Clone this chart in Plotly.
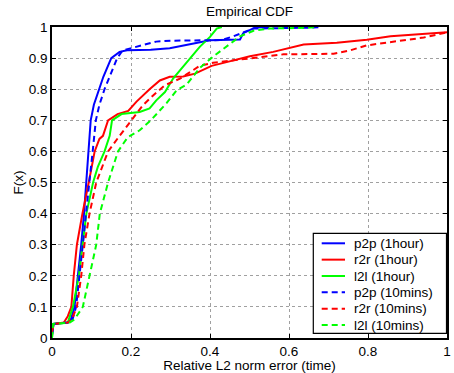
import plotly.graph_objects as go

# ---------------- data ----------------
p2p_1h_x = [0, 0.004, 0.04, 0.048, 0.057, 0.066, 0.074, 0.081, 0.087, 0.092, 0.098, 0.106, 0.114, 0.119, 0.13, 0.15, 0.171, 0.19, 0.25, 0.298, 0.374, 0.40, 0.476, 0.484, 0.514, 0.55]
p2p_1h_y = [0.01, 0.045, 0.05, 0.06, 0.1, 0.2, 0.3, 0.4, 0.5, 0.6, 0.7, 0.75, 0.78, 0.8, 0.84, 0.9, 0.92, 0.925, 0.927, 0.932, 0.952, 0.957, 0.96, 0.98, 0.998, 1.0]

r2r_1h_x = [0, 0.004, 0.03, 0.04, 0.049, 0.055, 0.063, 0.077, 0.093, 0.108, 0.12, 0.129, 0.142, 0.166, 0.193, 0.214, 0.247, 0.273, 0.298, 0.332, 0.362, 0.404, 0.442, 0.501, 0.56, 0.594, 0.637, 0.721, 0.797, 0.857, 0.924, 1.0]
r2r_1h_y = [0.02, 0.045, 0.05, 0.07, 0.1, 0.2, 0.3, 0.4, 0.5, 0.6, 0.64, 0.65, 0.7, 0.72, 0.73, 0.76, 0.8, 0.828, 0.84, 0.841, 0.85, 0.875, 0.887, 0.906, 0.92, 0.931, 0.944, 0.949, 0.959, 0.97, 0.977, 0.983]

l2l_1h_x = [0, 0.003, 0.04, 0.046, 0.053, 0.068, 0.078, 0.087, 0.104, 0.116, 0.133, 0.146, 0.152, 0.176, 0.222, 0.247, 0.264, 0.286, 0.307, 0.341, 0.374, 0.40, 0.417, 0.43]
l2l_1h_y = [0.0, 0.045, 0.05, 0.07, 0.1, 0.2, 0.3, 0.4, 0.5, 0.55, 0.6, 0.65, 0.7, 0.72, 0.727, 0.738, 0.764, 0.791, 0.835, 0.887, 0.936, 0.968, 0.995, 1.0]

p2p_10m_x = [0, 0.004, 0.042, 0.052, 0.061, 0.07, 0.078, 0.086, 0.095, 0.103, 0.111, 0.12, 0.133, 0.165, 0.179, 0.222, 0.264, 0.30, 0.43, 0.459, 0.51, 0.66, 0.68]
p2p_10m_y = [0.01, 0.045, 0.05, 0.06, 0.1, 0.2, 0.3, 0.4, 0.5, 0.6, 0.7, 0.75, 0.8, 0.9, 0.925, 0.94, 0.953, 0.956, 0.958, 0.97, 0.995, 0.998, 1.0]

r2r_10m_x = [0, 0.004, 0.04, 0.05, 0.063, 0.074, 0.082, 0.095, 0.112, 0.142, 0.171, 0.201, 0.23, 0.256, 0.286, 0.324, 0.341, 0.374, 0.408, 0.458, 0.527, 0.586, 0.713, 0.755, 0.797, 0.89, 0.941, 1.0]
r2r_10m_y = [0.02, 0.045, 0.05, 0.06, 0.1, 0.2, 0.3, 0.4, 0.5, 0.6, 0.65, 0.7, 0.748, 0.78, 0.813, 0.834, 0.848, 0.875, 0.885, 0.893, 0.904, 0.912, 0.914, 0.925, 0.941, 0.957, 0.966, 0.983]

l2l_10m_x = [0, 0.003, 0.045, 0.057, 0.078, 0.095, 0.112, 0.121, 0.142, 0.167, 0.192, 0.222, 0.25, 0.29, 0.315, 0.341, 0.374, 0.408, 0.45, 0.476, 0.51, 0.552, 0.654, 0.67]
l2l_10m_y = [0.0, 0.045, 0.05, 0.06, 0.1, 0.2, 0.3, 0.4, 0.5, 0.6, 0.646, 0.668, 0.70, 0.755, 0.796, 0.815, 0.868, 0.905, 0.945, 0.97, 0.988, 0.995, 0.998, 1.0]

series_names = ["p2p (1hour)", "r2r (1hour)", "l2l (1hour)",
                "p2p (10mins)", "r2r (10mins)", "l2l (10mins)"]
series_colors = ["#0000ff", "#ff0000", "#00ff00", "#0000ff", "#ff0000", "#00ff00"]
series_dash = ["solid", "solid", "solid", "6px,4px", "6px,4px", "6px,4px"]

x_tick_vals = [0, 0.2, 0.4, 0.6, 0.8, 1]
x_tick_text = ["0", "0.2", "0.4", "0.6", "0.8", "1"]
y_tick_vals = [0, 0.1, 0.2, 0.3, 0.4, 0.5, 0.6, 0.7, 0.8, 0.9, 1]
y_tick_text = ["0", "0.1", "0.2", "0.3", "0.4", "0.5", "0.6", "0.7", "0.8", "0.9", "1"]

title_text = "Empirical CDF"
x_title = "Relative L2 norm error (time)"
y_title = "F(x)"

# ---------------- figure ----------------
FONT = "Liberation Sans, Arial, Helvetica, sans-serif"
FS = 13.5

xs = [p2p_1h_x, r2r_1h_x, l2l_1h_x, p2p_10m_x, r2r_10m_x, l2l_10m_x]
ys = [p2p_1h_y, r2r_1h_y, l2l_1h_y, p2p_10m_y, r2r_10m_y, l2l_10m_y]

fig = go.Figure()
for i in range(6):
    fig.add_trace(go.Scatter(
        x=xs[i], y=ys[i], mode="lines", name=series_names[i],
        line=dict(color=series_colors[i], width=2, dash=series_dash[i]),
        showlegend=False, hoverinfo="skip"))

W, H = 454, 373
ML, MR, MT, MB = 52, 7, 27, 35
PW, PH = W - ML - MR, H - MT - MB

def px_x(p):
    return (p - ML) / PW

def px_y(p):
    return (H - MB - p) / PH

shapes = []
annotations = []
# legend box (drawn manually to match the compact MATLAB legend)
shapes.append(dict(type="rect", xref="paper", yref="paper",
                   x0=px_x(313.3), x1=px_x(446.5), y0=px_y(333.3), y1=px_y(233.3),
                   line=dict(color="black", width=1.2), fillcolor="white", layer="above"))
for i, name in enumerate(series_names):
    cy = 243.3 + i * 16.35
    shapes.append(dict(type="line", xref="paper", yref="paper",
                       x0=px_x(321.7), x1=px_x(345), y0=px_y(cy), y1=px_y(cy),
                       line=dict(color=series_colors[i], width=2, dash=series_dash[i]),
                       layer="above"))
    annotations.append(dict(xref="paper", yref="paper", x=px_x(351.5), y=px_y(cy),
                            xanchor="left", yanchor="middle", text=name, showarrow=False,
                            font=dict(family=FONT, size=FS, color="black")))

fig.update_layout(
    width=W, height=H,
    margin=dict(l=ML, r=MR, t=MT, b=MB, pad=0),
    paper_bgcolor="white", plot_bgcolor="white",
    font=dict(family=FONT, size=FS, color="black"),
    title=dict(text=title_text, x=(ML + PW / 2) / W, xanchor="center",
               y=1 - 11.5 / H, yanchor="middle",
               font=dict(family=FONT, size=FS, color="black")),
    shapes=shapes, annotations=annotations, showlegend=False,
)
fig.update_xaxes(range=[0, 1], tickvals=x_tick_vals, ticktext=x_tick_text,
                 ticks="inside", ticklen=4, tickcolor="black", tickwidth=1,
                 showline=True, linecolor="black", linewidth=1.6, mirror="ticks",
                 showgrid=True, gridcolor="#a0a0a0", gridwidth=1, griddash="dot",
                 zeroline=False, automargin=False,
                 title=dict(text=x_title, standoff=0, font=dict(family=FONT, size=FS)))
fig.update_yaxes(range=[0, 1], tickvals=y_tick_vals, ticktext=y_tick_text,
                 ticks="inside", ticklen=4, tickcolor="black", tickwidth=1,
                 showline=True, linecolor="black", linewidth=1.6, mirror="ticks",
                 showgrid=True, gridcolor="#a0a0a0", gridwidth=1, griddash="dot",
                 zeroline=False, automargin=False,
                 title=dict(text=y_title, standoff=2, font=dict(family=FONT, size=FS)))

fig.write_html("out.html")
